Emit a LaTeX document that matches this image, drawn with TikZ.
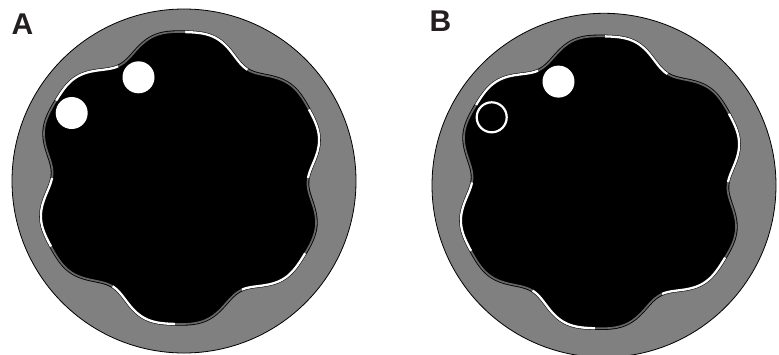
\documentclass[tikz,border=0pt]{standalone}
\usepackage{fontspec}
\setmainfont{Liberation Sans}
\definecolor{ring}{HTML}{808080}
\definecolor{strip}{HTML}{666666}
\definecolor{ink}{HTML}{231F20}
\tikzset{
  x=1pt,y=-1pt,
  ringdisc/.style={fill=ring,draw=black,line width=0.8pt},
  cavity/.style={fill=black,draw=black,line width=3.4pt},
  whiteseg/.style={draw=white,line width=2.3pt,line cap=butt},
  grayseg/.style={draw=strip,line width=1.7pt,line cap=butt},
  hole/.style={fill=white,draw=none},
  hollow/.style={fill=black,draw=white,line width=2.2pt},
  panellabel/.style={font=\fontsize{30}{30}\selectfont\bfseries,anchor=base west,inner sep=0pt,text=ink},
  declare function={lobe(\t)=139.5-9*cos(6*\t)+2*sin(6*\t)-2.5*cos(12*\t)+1*sin(12*\t);}
}
\newcommand{\arcseg}[3]{\draw[#1] plot[domain=#2:#3,samples=40,smooth] ({180+lobe(\x)*cos(\x)},{178-lobe(\x)*sin(\x)});}
\newcommand{\panelshape}{%
  \draw[ringdisc] (184,181) circle[radius=172];
  \draw[cavity] plot[domain=0:360,samples=240,smooth cycle] ({180+lobe(\x)*cos(\x)},{178-lobe(\x)*sin(\x)});
  \arcseg{whiteseg}{88}{58}
  \arcseg{grayseg}{58}{28}
  \arcseg{whiteseg}{28}{0}
  \arcseg{grayseg}{0}{-31}
  \arcseg{whiteseg}{-31}{-61}
  \arcseg{grayseg}{-61}{-92}
  \arcseg{whiteseg}{-92}{-122}
  \arcseg{grayseg}{-122}{-152}
  \arcseg{whiteseg}{-152}{-180}
  \arcseg{grayseg}{-180}{-212}
  \arcseg{whiteseg}{-212}{-241}
  \arcseg{grayseg}{-241}{-272}
  \fill[hole] (138.5,77.3) circle[radius=16];
}
\begin{document}
\begin{tikzpicture}
  \useasboundingbox (0,0) rectangle (779,354);
  \clip (0,0) rectangle (779,354);
  \begin{scope}
    \panelshape
    \fill[hole] (71.7,113) circle[radius=16];
  \end{scope}
  \begin{scope}[shift={(420,4.3)}]
    \panelshape
    \draw[hollow] (71.7,113) circle[radius=15];
  \end{scope}
  \node[panellabel] (labelA) at (11.5,34) {A};
  \node[panellabel] (labelB) at (429.5,31.5) {B};
\end{tikzpicture}
\end{document}
